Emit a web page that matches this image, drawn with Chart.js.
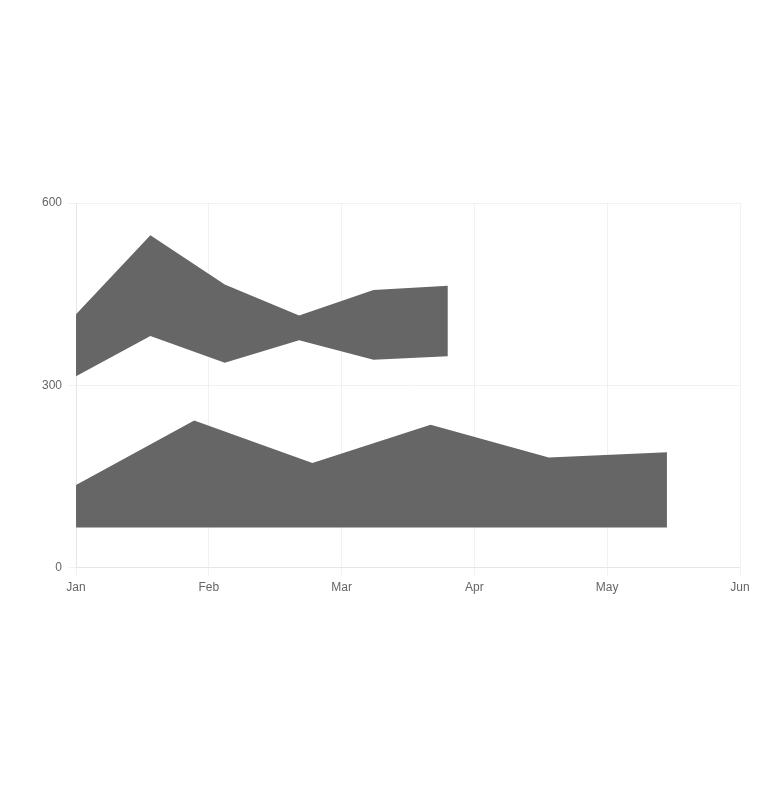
<!DOCTYPE html>
<html>
<head>
<meta charset="utf-8">
<script src="https://cdn.jsdelivr.net/npm/chart.js@4/dist/chart.umd.min.js"></script>
<style>
  html, body { margin: 0; padding: 0; background: #fff; }
  #wrap { position: relative; width: 768px; height: 800px; }
</style>
</head>
<body>
<div id="wrap"><canvas id="chart"></canvas></div>
<script>
const months = ['Jan', 'Feb', 'Mar', 'Apr', 'May', 'Jun'];
const yTicks = [0, 300, 600];

// band between two lines (upper left)
const bandX = [0, 0.56, 1.12, 1.68, 2.24, 2.8];
const bandHigh = [417, 547, 466, 415, 457, 464];
const bandLow = [315, 381, 337, 374, 342, 348];

// area filled down to a fixed value
const areaX = [0, 0.89, 1.78, 2.67, 3.56, 4.45];
const areaValues = [136, 242, 172, 235, 181, 190];
const areaBase = 66;

const fillColor = '#666666';
const gridColor = 'rgba(0,0,0,0.05)';

const toPoints = (xs, ys) => xs.map((x, i) => ({ x: x, y: ys[i] }));

Chart.defaults.font.family = "'Helvetica Neue', Helvetica, Arial, sans-serif";
Chart.defaults.font.size = 12;
Chart.defaults.color = '#666';

new Chart(document.getElementById('chart').getContext('2d'), {
  type: 'line',
  data: {
    datasets: [
      {
        data: toPoints(bandX, bandHigh),
        backgroundColor: fillColor,
        borderWidth: 0,
        pointRadius: 0,
        tension: 0,
        fill: '+1'
      },
      {
        data: toPoints(bandX, bandLow),
        backgroundColor: fillColor,
        borderWidth: 0,
        pointRadius: 0,
        tension: 0,
        fill: false
      },
      {
        data: toPoints(areaX, areaValues),
        backgroundColor: fillColor,
        borderWidth: 0,
        pointRadius: 0,
        tension: 0,
        fill: { value: areaBase }
      }
    ]
  },
  options: {
    responsive: true,
    maintainAspectRatio: false,
    animation: false,
    layout: { padding: { left: 36, top: 203, right: 28, bottom: 200 } },
    plugins: {
      legend: { display: false },
      tooltip: { enabled: false }
    },
    scales: {
      x: {
        type: 'linear',
        min: 0,
        max: months.length - 1,
        grid: { color: gridColor },
        border: { color: gridColor },
        ticks: {
          stepSize: 1,
          padding: 5,
          maxRotation: 0,
          callback: (v) => months[v]
        }
      },
      y: {
        min: yTicks[0],
        max: yTicks[yTicks.length - 1],
        grid: { color: gridColor },
        border: { color: gridColor },
        ticks: { padding: 6 },
        afterBuildTicks: (axis) => { axis.ticks = yTicks.map(v => ({ value: v })); }
      }
    }
  }
});
</script>
</body>
</html>
